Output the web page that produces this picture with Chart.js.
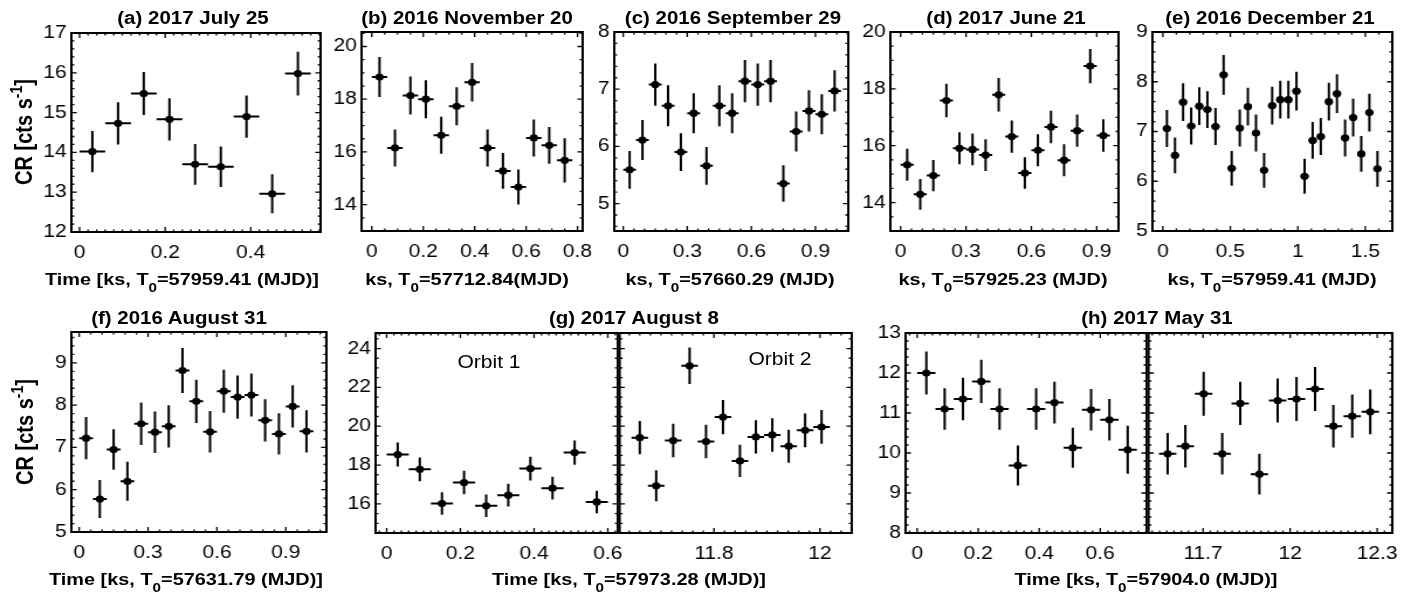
<!DOCTYPE html>
<html>
<head>
<meta charset="utf-8">
<script src="https://cdn.jsdelivr.net/npm/chart.js@4.4.1/dist/chart.umd.min.js"></script>
<style>
  html, body { margin: 0; background: #fff; overflow: hidden; }
  #fig {
    position: relative; width: 1215px; height: 599px;
    transform: scaleX(1.17); transform-origin: 0 0;
    font-family: "Liberation Sans", Arial, Helvetica, sans-serif; color: #000;
  }
  #fig canvas { position: absolute; }
  .t { position: absolute; white-space: nowrap; font-size: 17px; line-height: 17px; transform: translateX(-50%); }
  .b { font-weight: bold; }
  .head { font-size: 17.5px; }
  .t sub { font-size: 13px; line-height: 0; vertical-align: -7px; }
  .ylab { font-size: 20px; line-height: 20px; font-weight: bold; transform: translate(-50%, -50%) rotate(-90deg); }
  .ylab sup { font-size: 14px; line-height: 0; vertical-align: 8px; }
</style>
</head>
<body>
<div id="fig"></div>
<script>
// the figure is laid out narrow and stretched sideways by SX
const SX = 1.17;

// (a) 2017 July 25
const aTime = [0.03, 0.09, 0.15, 0.21, 0.27, 0.33, 0.39, 0.45, 0.51];
const aRate = [14.02, 14.73, 15.48, 14.83, 13.70, 13.64, 14.90, 12.96, 15.98];
const aErr = [0.52, 0.53, 0.54, 0.53, 0.51, 0.51, 0.53, 0.49, 0.55];
const aXTicks = [0, 0.2, 0.4];
const aYTicks = [12, 13, 14, 15, 16, 17];

// (b) 2016 November 20
const bTime = [0.03, 0.09, 0.15, 0.21, 0.27, 0.33, 0.39, 0.45, 0.51, 0.57, 0.63, 0.69, 0.75];
const bRate = [18.84, 16.15, 18.14, 18.0, 16.63, 17.73, 18.64, 16.15, 15.28, 14.67, 16.53, 16.25, 15.68];
const bErr = [0.76, 0.70, 0.72, 0.72, 0.70, 0.72, 0.73, 0.70, 0.68, 0.66, 0.70, 0.70, 0.84];
const bXTicks = [0, 0.2, 0.4, 0.6, 0.8];
const bYTicks = [14, 16, 18, 20];

// (c) 2016 September 29
const cTime = [0.03, 0.09, 0.15, 0.21, 0.27, 0.33, 0.39, 0.45, 0.51, 0.57, 0.63, 0.69, 0.75, 0.81, 0.87, 0.93, 0.99];
const cRate = [5.59, 6.11, 7.08, 6.71, 5.90, 6.58, 5.66, 6.71, 6.58, 7.14, 7.08, 7.14, 5.35, 6.26, 6.62, 6.56, 6.97];
const cErr = [0.33, 0.35, 0.37, 0.36, 0.33, 0.35, 0.33, 0.36, 0.35, 0.37, 0.37, 0.37, 0.32, 0.35, 0.36, 0.35, 0.36];
const cXTicks = [0, 0.3, 0.6, 0.9];
const cYTicks = [5, 6, 7, 8];

// (d) 2017 June 21
const dTime = [0.03, 0.09, 0.15, 0.21, 0.27, 0.33, 0.39, 0.45, 0.51, 0.57, 0.63, 0.69, 0.75, 0.81, 0.87, 0.93];
const dRate = [15.33, 14.29, 14.95, 17.59, 15.91, 15.87, 15.67, 17.79, 16.32, 15.04, 15.84, 16.66, 15.49, 16.53, 18.80, 16.36];
const dErr = [0.56, 0.54, 0.55, 0.59, 0.56, 0.56, 0.56, 0.59, 0.57, 0.55, 0.56, 0.57, 0.56, 0.57, 0.60, 0.57];
const dXTicks = [0, 0.3, 0.6, 0.9];
const dYTicks = [14, 16, 18, 20];

// (e) 2016 December 21
const eTime = [0.03, 0.09, 0.15, 0.21, 0.27, 0.33, 0.39, 0.45, 0.51, 0.57, 0.63, 0.69, 0.75, 0.81,
  0.87, 0.93, 0.99, 1.05, 1.11, 1.17, 1.23, 1.29, 1.35, 1.41, 1.47, 1.53, 1.59];
const eRate = [7.06, 6.52, 7.59, 7.11, 7.51, 7.44, 7.10, 8.14, 6.26, 7.07, 7.50, 6.97, 6.22, 7.52,
  7.64, 7.64, 7.81, 6.10, 6.82, 6.90, 7.60, 7.76, 6.87, 7.28, 6.55, 7.38, 6.25];
const eErr = [0.37, 0.36, 0.38, 0.37, 0.38, 0.37, 0.37, 0.40, 0.35, 0.37, 0.38, 0.37, 0.35, 0.38,
  0.38, 0.38, 0.39, 0.35, 0.37, 0.37, 0.38, 0.39, 0.37, 0.38, 0.36, 0.38, 0.36];
const eXTicks = [0, 0.5, 1, 1.5];
const eYTicks = [5, 6, 7, 8, 9];

// (f) 2016 August 31
const fTime = [0.03, 0.09, 0.15, 0.21, 0.27, 0.33, 0.39, 0.45, 0.51, 0.57, 0.63, 0.69, 0.75, 0.81, 0.87, 0.93, 0.99];
const fRate = [7.22, 5.78, 6.95, 6.20, 7.56, 7.36, 7.50, 8.82, 8.09, 7.37, 8.33, 8.19, 8.24, 7.64, 7.32, 7.97, 7.38];
const fErr = [0.50, 0.45, 0.48, 0.46, 0.50, 0.49, 0.50, 0.53, 0.51, 0.49, 0.51, 0.51, 0.51, 0.50, 0.49, 0.50, 0.50];
const fXTicks = [0, 0.3, 0.6, 0.9];
const fYTicks = [5, 6, 7, 8, 9];

// (g) 2017 August 8, orbit 1 and orbit 2
const g1Time = [0.03, 0.09, 0.15, 0.21, 0.27, 0.33, 0.39, 0.45, 0.51, 0.57];
const g1Rate = [18.54, 17.78, 16.02, 17.10, 15.90, 16.45, 17.82, 16.81, 18.64, 16.10];
const g1Err = [0.62, 0.61, 0.58, 0.60, 0.58, 0.59, 0.61, 0.59, 0.62, 0.58];
const g2Time = [11.660, 11.691, 11.723, 11.754, 11.785, 11.817, 11.849, 11.879, 11.910, 11.941, 11.972, 12.003];
const g2Rate = [19.41, 16.93, 19.26, 23.11, 19.21, 20.47, 18.21, 19.45, 19.55, 18.97, 19.79, 19.96];
const g2Err = [0.86, 0.80, 0.86, 0.94, 0.86, 0.88, 0.83, 0.86, 0.86, 0.85, 0.87, 0.87];
const g1XTicks = [0, 0.2, 0.4, 0.6];
const g2XTicks = [11.8, 12];
const gYTicks = [16, 18, 20, 22, 24];

// (h) 2017 May 31, two orbits
const h1Time = [0.03, 0.09, 0.15, 0.21, 0.27, 0.33, 0.39, 0.45, 0.51, 0.57, 0.63, 0.69];
const h1Rate = [12.00, 11.10, 11.35, 11.79, 11.10, 9.69, 11.10, 11.26, 10.13, 11.08, 10.83, 10.08];
const h1Err = [0.54, 0.52, 0.53, 0.54, 0.52, 0.50, 0.52, 0.52, 0.50, 0.52, 0.52, 0.60];
const h2Time = [11.578, 11.639, 11.702, 11.766, 11.828, 11.894, 11.957, 12.022, 12.086, 12.149, 12.214, 12.276];
const h2Rate = [9.98, 10.17, 11.48, 9.98, 11.24, 9.47, 11.31, 11.35, 11.60, 10.67, 10.92, 11.03];
const h2Err = [0.52, 0.53, 0.55, 0.52, 0.54, 0.51, 0.55, 0.55, 0.55, 0.53, 0.54, 0.56];
const h1XTicks = [0, 0.2, 0.4, 0.6];
const h2XTicks = [11.7, 12, 12.3];
const hYTicks = [8, 9, 10, 11, 12, 13];

// box = [left, top, right, bottom] of each plot frame, in page pixels
const panels = [
  { time: aTime, rate: aRate, err: aErr, bin: 0.03, xTicks: aXTicks, yTicks: aYTicks,
    box: [71, 33, 320, 232], x: [-0.019, 0.563], y: [12, 17], xMinor: 0.02, yMinor: 0.2, yLabels: true },
  { time: bTime, rate: bRate, err: bErr, bin: 0.03, xTicks: bXTicks, yTicks: bYTicks,
    box: [361, 32, 583, 231], x: [-0.04, 0.82], y: [13, 20.55], xMinor: 0.05, yMinor: 0.5, yLabels: true },
  { time: cTime, rate: cRate, err: cErr, bin: 0.03, xTicks: cXTicks, yTicks: cYTicks,
    box: [614, 32, 848, 231], x: [-0.042, 1.054], y: [4.52, 8.0], xMinor: 0.05, yMinor: 0.2, yLabels: true },
  { time: dTime, rate: dRate, err: dErr, bin: 0.03, xTicks: dXTicks, yTicks: dYTicks,
    box: [890, 32, 1118, 231], x: [-0.047, 1.0], y: [13, 20], xMinor: 0.05, yMinor: 0.5, yLabels: true },
  { time: eTime, rate: eRate, err: eErr, bin: 0.03, xTicks: eXTicks, yTicks: eYTicks,
    box: [1153, 32, 1392, 231], x: [-0.077, 1.70], y: [5, 9], xMinor: 0.1, yMinor: 0.2, yLabels: true },
  { time: fTime, rate: fRate, err: fErr, bin: 0.03, xTicks: fXTicks, yTicks: fYTicks,
    box: [71, 332, 326, 532], x: [-0.034, 1.077], y: [5, 9.73], xMinor: 0.05, yMinor: 0.2, yLabels: true },
  { time: g1Time, rate: g1Rate, err: g1Err, bin: 0.03, xTicks: g1XTicks, yTicks: gYTicks,
    box: [376, 333, 618, 533], x: [-0.03, 0.627], y: [14.5, 24.8], xMinor: 0.02, yMinor: 0.5, yLabels: true },
  { time: g2Time, rate: g2Rate, err: g2Err, bin: 0.0156, xTicks: g2XTicks, yTicks: gYTicks,
    box: [618, 333, 852, 533], x: [11.622, 12.06], y: [14.5, 24.8], xMinor: 0.02, yMinor: 0.5, yLabels: false },
  { time: h1Time, rate: h1Rate, err: h1Err, bin: 0.03, xTicks: h1XTicks, yTicks: hYTicks,
    box: [906, 333, 1147, 533], x: [-0.038, 0.752], y: [8, 13], xMinor: 0.025, yMinor: 0.2, yLabels: true },
  { time: h2Time, rate: h2Rate, err: h2Err, bin: 0.03, xTicks: h2XTicks, yTicks: hYTicks,
    box: [1147, 333, 1392, 533], x: [11.512, 12.352], y: [8, 13], xMinor: 0.025, yMinor: 0.2, yLabels: false }
];

// text: [html, centre x, baseline y, kind]
const texts = [
  ['(a) 2017 July 25', 193, 25, 'head'],
  ['(b) 2016 November 20', 467, 25, 'head'],
  ['(c) 2016 September 29', 733, 25, 'head'],
  ['(d) 2017 June 21', 1006, 25, 'head'],
  ['(e) 2016 December 21', 1270, 25, 'head'],
  ['(f) 2016 August 31', 179, 325, 'head'],
  ['(g) 2017 August 8', 634, 325, 'head'],
  ['(h) 2017 May 31', 1157, 325, 'head'],
  ['Time [ks, T<sub>0</sub>=57959.41 (MJD)]', 182, 286, 'axis'],
  ['ks, T<sub>0</sub>=57712.84(MJD)', 467, 286, 'axis'],
  ['ks, T<sub>0</sub>=57660.29 (MJD)', 730, 286, 'axis'],
  ['ks, T<sub>0</sub>=57925.23 (MJD)', 1003, 286, 'axis'],
  ['ks, T<sub>0</sub>=57959.41 (MJD)', 1272, 286, 'axis'],
  ['Time [ks, T<sub>0</sub>=57631.79 (MJD)]', 186, 586, 'axis'],
  ['Time [ks, T<sub>0</sub>=57973.28 (MJD)]', 629, 586, 'axis'],
  ['Time [ks, T<sub>0</sub>=57904.0 (MJD)]', 1146, 586, 'axis'],
  ['Orbit 1', 489, 368, 'note'],
  ['Orbit 2', 780, 365, 'note']
];
const yTitles = [[23, 132], [25, 432]];

const fig = document.getElementById('fig');

texts.forEach(([html, cx, base, kind]) => {
  const el = document.createElement('div');
  el.className = 't' + (kind === 'note' ? '' : ' b') + (kind === 'head' ? ' head' : '');
  el.innerHTML = html;
  if (kind === 'note') {
    el.style.fontSize = '18px';
    el.style.lineHeight = '18px';
    el.style.top = (base - 15.3) + 'px';
  } else {
    el.style.top = (base - 14.6) + 'px';
  }
  el.style.left = (cx / SX) + 'px';
  fig.appendChild(el);
});

yTitles.forEach(([cx, cy]) => {
  const el = document.createElement('div');
  el.className = 't ylab';
  el.innerHTML = 'CR [cts s<sup>-1</sup>]';
  el.style.left = (cx / SX) + 'px';
  el.style.top = cy + 'px';
  fig.appendChild(el);
});

const PT = 12, PR = 16, XH = 34;
const tickFont = { family: 'Liberation Sans', size: 18 };

// error crosses, drawn under the markers
function errorBars(p) {
  return {
    id: 'errorBars',
    beforeDatasetsDraw(chart) {
      const { ctx, scales: { x, y } } = chart;
      ctx.save();
      ctx.strokeStyle = '#000';
      ctx.lineWidth = 2;
      ctx.beginPath();
      p.time.forEach((t, i) => {
        const px = x.getPixelForValue(t);
        const py = y.getPixelForValue(p.rate[i]);
        ctx.moveTo(x.getPixelForValue(t - p.bin), py);
        ctx.lineTo(x.getPixelForValue(t + p.bin), py);
        ctx.moveTo(px, y.getPixelForValue(p.rate[i] - p.err[i]));
        ctx.lineTo(px, y.getPixelForValue(p.rate[i] + p.err[i]));
      });
      ctx.stroke();
      ctx.restore();
    }
  };
}

// closed frame with inward major and minor ticks on all four sides
function frame(p) {
  return {
    id: 'frame',
    afterDraw(chart) {
      const { ctx, chartArea: a, scales: { x, y } } = chart;
      const steps = (min, max, step) => {
        const out = [];
        for (let k = Math.ceil(min / step - 1e-9); k * step <= max + 1e-9; k++) out.push(k * step);
        return out;
      };
      const xMarks = (vals, len) => vals.forEach(v => {
        const px = x.getPixelForValue(v);
        ctx.moveTo(px, a.bottom); ctx.lineTo(px, a.bottom - len);
        ctx.moveTo(px, a.top); ctx.lineTo(px, a.top + len);
      });
      const yMarks = (vals, len) => vals.forEach(v => {
        const py = y.getPixelForValue(v);
        ctx.moveTo(a.left, py); ctx.lineTo(a.left + len, py);
        ctx.moveTo(a.right, py); ctx.lineTo(a.right - len, py);
      });
      ctx.save();
      ctx.strokeStyle = '#000';
      ctx.lineWidth = 1.3;
      ctx.beginPath();
      xMarks(steps(p.x[0], p.x[1], p.xMinor), 2.5);
      yMarks(steps(p.y[0], p.y[1], p.yMinor), 2.5);
      xMarks(p.xTicks, 5);
      yMarks(p.yTicks, 4.5);
      ctx.stroke();
      ctx.lineWidth = 2;
      ctx.strokeRect(a.left, a.top, a.right - a.left, a.bottom - a.top);
      ctx.restore();
    }
  };
}

panels.forEach(p => {
  const [l, t, r, b] = p.box;
  const yw = p.yLabels ? 46 : 2;
  const left = Math.round(l / SX);
  const cv = document.createElement('canvas');
  cv.width = Math.round(r / SX) - left + yw + PR;
  cv.height = (b - t) + PT + XH;
  cv.style.left = (left - yw) + 'px';
  cv.style.top = (t - PT) + 'px';
  fig.appendChild(cv);

  new Chart(cv.getContext('2d'), {
    type: 'scatter',
    data: {
      datasets: [{
        data: p.time.map((v, i) => ({ x: v, y: p.rate[i] })),
        pointRadius: 3.6,
        pointHoverRadius: 3.6,
        backgroundColor: '#000',
        borderWidth: 0
      }]
    },
    options: {
      responsive: false,
      animation: false,
      events: [],
      layout: { padding: { top: PT, right: PR, left: 0, bottom: 0 } },
      plugins: { legend: { display: false }, tooltip: { enabled: false }, title: { display: false } },
      scales: {
        x: {
          type: 'linear', min: p.x[0], max: p.x[1],
          grid: { display: false, drawTicks: false },
          border: { display: false },
          ticks: { font: tickFont, color: '#000', padding: 10, autoSkip: false, maxRotation: 0, callback: v => String(v) },
          afterBuildTicks: s => { s.ticks = p.xTicks.map(v => ({ value: v })); },
          afterFit: s => { s.height = XH; s.paddingLeft = 0; s.paddingRight = 0; }
        },
        y: {
          type: 'linear', min: p.y[0], max: p.y[1],
          grid: { display: false, drawTicks: false },
          border: { display: false },
          ticks: { display: p.yLabels, font: tickFont, color: '#000', padding: 4, autoSkip: false, callback: v => String(v) },
          afterBuildTicks: s => { s.ticks = p.yTicks.map(v => ({ value: v })); },
          afterFit: s => { s.width = yw; s.paddingTop = 0; s.paddingBottom = 0; }
        }
      }
    },
    plugins: [errorBars(p), frame(p)]
  });
});
</script>
</body>
</html>
